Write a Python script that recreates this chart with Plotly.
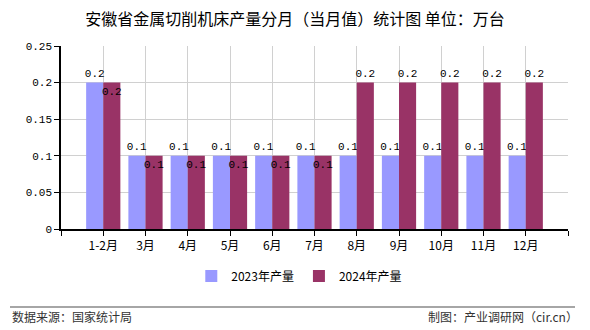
import plotly.graph_objects as go

categories = ["1-2月", "3月", "4月", "5月", "6月", "7月", "8月", "9月", "10月", "11月", "12月"]
values_2023 = [0.2, 0.1, 0.1, 0.1, 0.1, 0.1, 0.1, 0.1, 0.1, 0.1, 0.1]
values_2024 = [0.2, 0.1, 0.1, 0.1, 0.1, 0.1, 0.2, 0.2, 0.2, 0.2, 0.2]
labels_2023 = ["0.2", "0.1", "0.1", "0.1", "0.1", "0.1", "0.1", "0.1", "0.1", "0.1", "0.1"]
labels_2024 = ["0.2", "0.1", "0.1", "0.1", "0.1", "0.1", "0.2", "0.2", "0.2", "0.2", "0.2"]
pos_2024 = ["inside"] * 6 + ["outside"] * 5
series_names = ["2023年产量", "2024年产量"]
y_ticks = [0, 0.05, 0.1, 0.15, 0.2, 0.25]
y_ticktext = ["0", "0.05", "0.1", "0.15", "0.2", "0.25"]

CJK = "Noto Sans CJK SC"
MONO = "Liberation Mono"

xs = list(range(len(categories)))

fig = go.Figure()
fig.add_trace(go.Bar(
    x=xs, y=values_2023, name=series_names[0],
    marker=dict(color="#9999FF", line=dict(width=0)),
    text=labels_2023, textposition="outside", textangle=0,
    textfont=dict(family=MONO, size=11, color="black"),
    cliponaxis=False, constraintext="none",
))
fig.add_trace(go.Bar(
    x=xs, y=values_2024, name=series_names[1],
    marker=dict(color="#993366", line=dict(width=0)),
    text=labels_2024, textposition=pos_2024, textangle=0,
    insidetextanchor="end",
    textfont=dict(family=MONO, size=11, color="black"),
    insidetextfont=dict(family=MONO, size=11, color="black"),
    outsidetextfont=dict(family=MONO, size=11, color="black"),
    cliponaxis=False, constraintext="none",
))

tickvals_x = [-1] + xs + [len(categories)]
ticktext_x = [""] + categories + [""]

fig.update_layout(
    width=590, height=330,
    margin=dict(l=61, r=22, t=46, b=101),
    paper_bgcolor="white", plot_bgcolor="white",
    barmode="group", bargap=0.19, bargroupgap=0,
    title=dict(text="安徽省金属切削机床产量分月（当月值）统计图 单位：万台",
               x=0.5, xanchor="center", xref="container",
               y=1 - 19 / 330, yanchor="middle", yref="container",
               font=dict(family=CJK, size=16, color="black")),
    xaxis=dict(
        range=[-1, len(categories)],
        tickmode="array", tickvals=tickvals_x, ticktext=ticktext_x,
        showgrid=True, gridcolor="#d0d0d0", gridwidth=1,
        showline=True, linecolor="black", linewidth=1.5,
        ticks="outside", ticklen=5, tickcolor="black",
        tickfont=dict(family=CJK, size=12, color="black"),
        zeroline=False, fixedrange=True,
    ),
    yaxis=dict(
        range=[0, 0.25],
        tickmode="array", tickvals=y_ticks, ticktext=y_ticktext,
        showgrid=True, gridcolor="#d0d0d0", gridwidth=1,
        showline=True, linecolor="black", linewidth=1.5,
        ticks="outside", ticklen=5, tickcolor="black",
        tickfont=dict(family=MONO, size=11, color="black"),
        zeroline=False, fixedrange=True,
    ),
    legend=dict(
        orientation="h", x=0.47, xanchor="center",
        y=(229 - 276) / 183, yanchor="middle",
        font=dict(family=CJK, size=12, color="black"),
        itemwidth=30, traceorder="normal",
    ),
    showlegend=True,
)

fig.add_shape(type="line", xref="paper", yref="paper",
              x0=-0.1006, x1=1.0138, y0=(229 - 307) / 183, y1=(229 - 307) / 183,
              line=dict(color="#888888", width=1.5))

fig.add_annotation(text="数据来源：国家统计局", xref="paper", yref="paper",
                   x=-0.1006, xanchor="left", y=(229 - 316) / 183, yanchor="middle",
                   showarrow=False, font=dict(family=CJK, size=12, color="#333333"))
fig.add_annotation(text="制图：产业调研网（cir.cn）", xref="paper", yref="paper",
                   x=1.0237, xanchor="right", y=(229 - 316) / 183, yanchor="middle",
                   showarrow=False, font=dict(family=CJK, size=12, color="#333333"))

fig.write_html("out.html")
